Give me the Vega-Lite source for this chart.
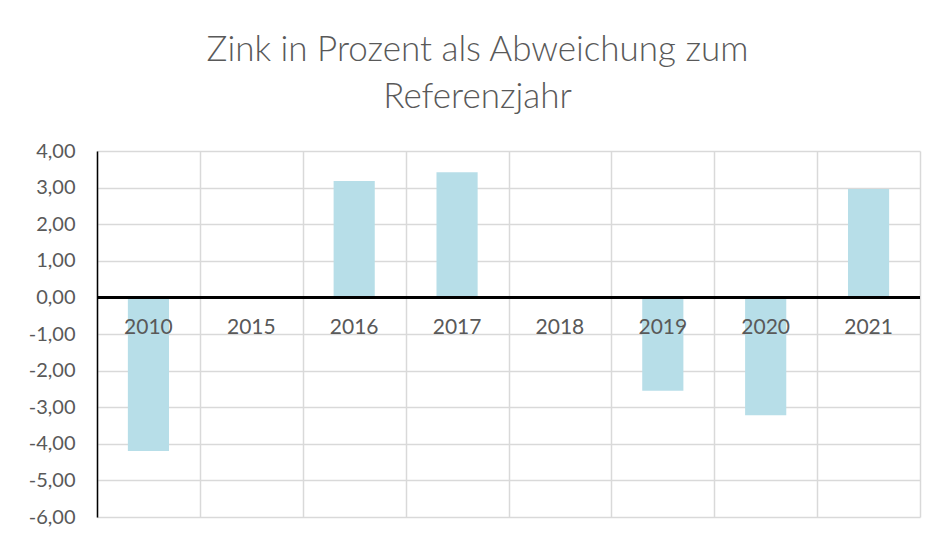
{
  "$schema": "https://vega.github.io/schema/vega-lite/v6.json",
  "width": 823,
  "height": 366,
  "autosize": {"type": "none"},
  "padding": {"left": 97, "top": 151, "right": 16, "bottom": 16},
  "background": "white",
  "title": {
    "text": ["Zink in Prozent als Abweichung zum", "Referenzjahr"],
    "font": "Lato",
    "fontSize": 35,
    "fontWeight": 300,
    "color": "#595959",
    "anchor": "middle",
    "dx": -31,
    "lineHeight": 47,
    "offset": 26
  },
  "data": {
    "values": [
      {"Jahr": "2010", "Wert": -4.2},
      {"Jahr": "2015", "Wert": 0},
      {"Jahr": "2016", "Wert": 3.18},
      {"Jahr": "2017", "Wert": 3.42},
      {"Jahr": "2018", "Wert": 0},
      {"Jahr": "2019", "Wert": -2.55},
      {"Jahr": "2020", "Wert": -3.22},
      {"Jahr": "2021", "Wert": 2.96}
    ]
  },
  "layer": [
    {
      "mark": {"type": "bar", "color": "#b7dee8", "width": {"band": 0.4}},
      "encoding": {
        "x": {
          "field": "Jahr",
          "type": "nominal",
          "sort": null,
          "scale": {"paddingInner": 0, "paddingOuter": 0},
          "axis": {
            "orient": "bottom",
            "domain": false,
            "ticks": false,
            "labels": false,
            "tickBand": "extent",
            "grid": true,
            "gridColor": "#d9d9d9",
            "gridWidth": 1.5,
            "title": null
          }
        },
        "y": {
          "field": "Wert",
          "type": "quantitative",
          "scale": {"domain": [-6, 4], "nice": false},
          "axis": {
            "values": [-6, -5, -4, -3, -2, -1, 0, 1, 2, 3, 4],
            "labelExpr": "(datum.value < 0 ? '-' : '') + replace(format(abs(datum.value), '.2f'), '.', ',')",
            "labelOverlap": false,
            "labelFont": "Lato",
            "labelFontSize": 20,
            "labelColor": "#595959",
            "labelPadding": 22,
            "domain": true,
            "domainColor": "black",
            "domainWidth": 1.5,
            "ticks": false,
            "grid": true,
            "gridColor": "#d9d9d9",
            "gridWidth": 1.5,
            "title": null
          }
        }
      }
    },
    {
      "mark": {"type": "rule", "color": "black", "strokeWidth": 2},
      "encoding": {
        "y": {
          "datum": 0,
          "type": "quantitative",
          "axis": {
            "values": [-6, -5, -4, -3, -2, -1, 0, 1, 2, 3, 4],
            "labelExpr": "(datum.value < 0 ? '-' : '') + replace(format(abs(datum.value), '.2f'), '.', ',')",
            "labelOverlap": false,
            "labelFont": "Lato",
            "labelFontSize": 20,
            "labelColor": "#595959",
            "labelPadding": 22,
            "domain": true,
            "domainColor": "black",
            "domainWidth": 1.5,
            "ticks": false,
            "grid": true,
            "gridColor": "#d9d9d9",
            "gridWidth": 1.5,
            "title": null
          }
        }
      }
    },
    {
      "mark": {"type": "point", "opacity": 0},
      "encoding": {
        "x": {
          "field": "Jahr",
          "type": "nominal",
          "sort": null,
          "axis": {
            "orient": "bottom",
            "offset": -190,
            "zindex": 1,
            "domain": false,
            "ticks": false,
            "grid": false,
            "labelAngle": 0,
            "labelFont": "Lato",
            "labelFontSize": 21,
            "labelColor": "#595959",
            "labelBaseline": "middle",
            "labelPadding": 0,
            "title": null
          }
        },
        "y": {
          "field": "Wert",
          "type": "quantitative",
          "axis": {
            "values": [-6, -5, -4, -3, -2, -1, 0, 1, 2, 3, 4],
            "labelExpr": "(datum.value < 0 ? '-' : '') + replace(format(abs(datum.value), '.2f'), '.', ',')",
            "labelOverlap": false,
            "labelFont": "Lato",
            "labelFontSize": 20,
            "labelColor": "#595959",
            "labelPadding": 22,
            "domain": true,
            "domainColor": "black",
            "domainWidth": 1.5,
            "ticks": false,
            "grid": true,
            "gridColor": "#d9d9d9",
            "gridWidth": 1.5,
            "title": null
          }
        }
      }
    }
  ],
  "resolve": {"axis": {"x": "independent"}},
  "config": {"view": {"stroke": null}}
}
